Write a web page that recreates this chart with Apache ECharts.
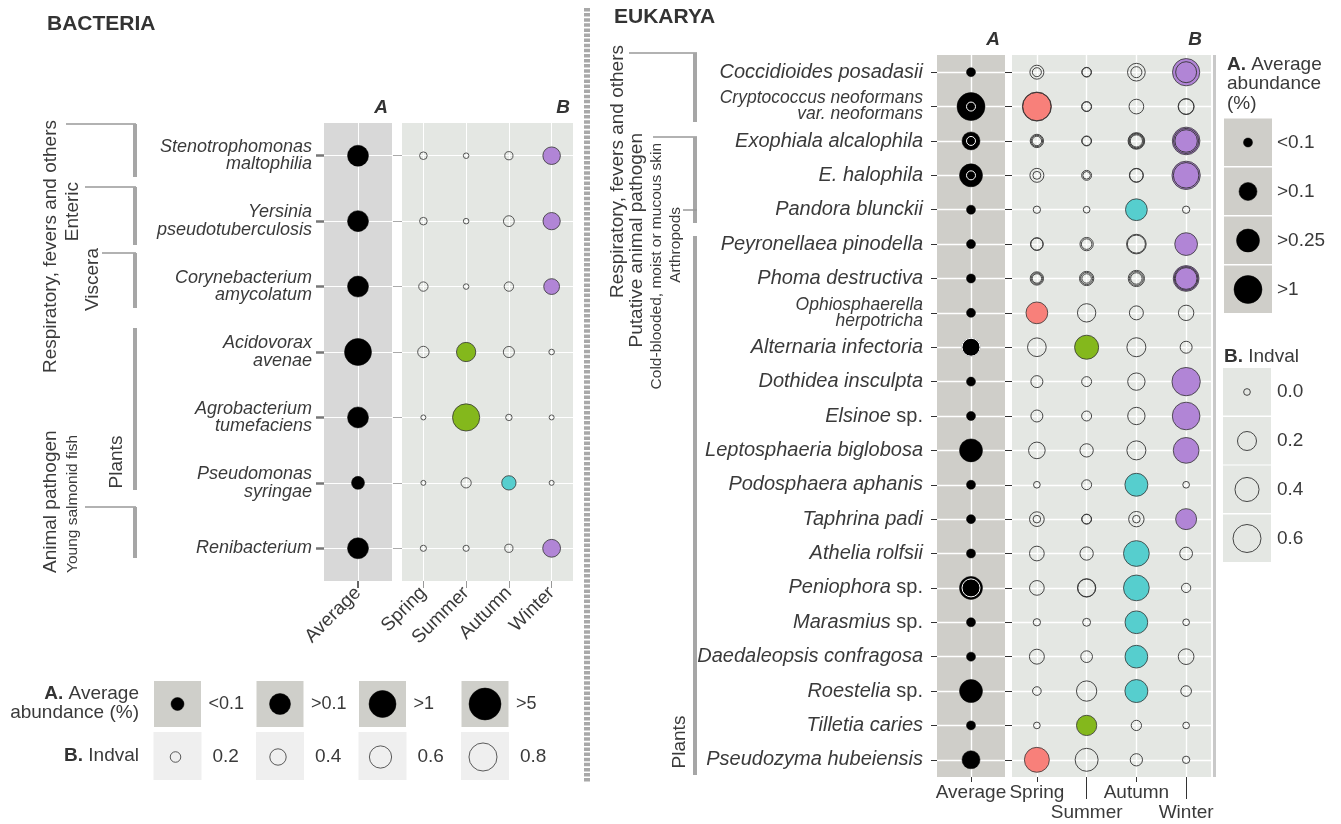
<!DOCTYPE html>
<html>
<head>
<meta charset="utf-8">
<script src="https://cdn.jsdelivr.net/npm/echarts@6/dist/echarts.min.js"></script>
<style>
  html, body { margin: 0; padding: 0; background: #ffffff; }
  #chart { width: 1341px; height: 824px; }
</style>
</head>
<body>
<div id="chart"></div>
<script>
// ---------- data ----------
const seasons = ['Spring', 'Summer', 'Autumn', 'Winter'];
const seasonColors = ['#f8807a', '#84b81c', '#56cece', '#b185d6'];

// Bacteria: average abundance (%) and seasonal indicator values
const bactTaxa = [
  'Stenotrophomonas\nmaltophilia',
  'Yersinia\npseudotuberculosis',
  'Corynebacterium\namycolatum',
  'Acidovorax\navenae',
  'Agrobacterium\ntumefaciens',
  'Pseudomonas\nsyringae',
  'Renibacterium'
];
const bactAbund = [0.5, 0.5, 0.5, 2, 0.5, 0.05, 0.5];
const bactSpring = [0.10, 0.10, 0.16, 0.23, 0.01, 0.01, 0.05];
const bactSummer = [0.03, 0.03, 0.03, 0.50, 0.77, 0.19, 0.05];
const bactAutumn = [0.12, 0.21, 0.16, 0.22, 0.06, 0.33, 0.12];
const bactWinter = [0.44, 0.43, 0.38, 0.03, 0.01, 0.01, 0.45];
const bactIndicator = ['Winter', 'Winter', 'Winter', 'Summer', 'Summer', 'Autumn', 'Winter'];

// Eukarya: several OTUs per taxon give several values per cell (first one is the main OTU)
const eukTaxa = [
  'Coccidioides posadasii',
  'Cryptococcus neoformans\nvar. neoformans',
  'Exophiala alcalophila',
  'E. halophila',
  'Pandora blunckii',
  'Peyronellaea pinodella',
  'Phoma destructiva',
  'Ophiosphaerella\nherpotricha',
  'Alternaria infectoria',
  'Dothidea insculpta',
  'Elsinoe sp.',
  'Leptosphaeria biglobosa',
  'Podosphaera aphanis',
  'Taphrina padi',
  'Athelia rolfsii',
  'Peniophora sp.',
  'Marasmius sp.',
  'Daedaleopsis confragosa',
  'Roestelia sp.',
  'Tilletia caries',
  'Pseudozyma hubeiensis'
];
const eukAbund = [0.05, 2, 0.2, 0.5, 0.05, 0.05, 0.05, 0.05, 0.2, 0.05, 0.05,
                  0.5, 0.05, 0.05, 0.05, 0.5, 0.05, 0.05, 0.5, 0.05, 0.2];
const eukAbundMinor = [[], [0.05], [0.05], [0.05], [], [], [], [], [0.2], [], [],
                       [], [], [], [], [0.2], [], [], [], [], []];
const eukSpring = [[0.07, 0.007], [0.66, 0.62], [0.058, 0.03, 0.01], [0.07, 0.002], [0.0005],
  [0.048, 0.04], [0.058, 0.03, 0.01], [0.30], [0.19], [0.037], [0.037], [0.13], [0],
  [0.085, 0.001], [0.085], [0.085], [0.0005], [0.09], [0.005], [0], [0.44]];
const eukSummer = [[0.012, 0.008], [0.014, 0.01], [0.014, 0.008], [0.014, 0.001], [0],
  [0.058, 0.02], [0.076, 0.04, 0.01], [0.18], [0.40], [0.014], [0.014], [0.058], [0.014],
  [0.014, 0.01], [0.058], [0.18, 0.16], [0.002], [0.033], [0.245], [0.245], [0.35]];
const eukAutumn = [[0.16, 0.025], [0.085], [0.13, 0.1, 0.07, 0.04], [0.07, 0.06], [0.30],
  [0.22, 0.17], [0.12, 0.07, 0.03], [0.07], [0.2], [0.15], [0.15], [0.2], [0.35],
  [0.1, 0.001], [0.48], [0.48], [0.34], [0.34], [0.35], [0.017], [0.041]];
const eukWinter = [[0.56, 0.27], [0.114, 0.1], [0.58, 0.45, 0.33], [0.62, 0.47], [0.0005],
  [0.34], [0.48, 0.38, 0.3], [0.1], [0.037], [0.62], [0.58], [0.48], [0],
  [0.27], [0.048], [0.009], [0], [0.107], [0.021], [0], [0.0005]];
const eukIndicator = ['Winter', 'Spring', 'Winter', 'Winter', 'Autumn', 'Winter', 'Winter',
  'Spring', 'Summer', 'Winter', 'Winter', 'Winter', 'Autumn', 'Winter', 'Autumn', 'Autumn',
  'Autumn', 'Autumn', 'Autumn', 'Summer', 'Spring'];

// legend keys
const bactAbundKeys = [0.05, 0.5, 2, 8];
const bactAbundKeyLabels = ['<0.1', '>0.1', '>1', '>5'];
const bactIndKeys = [0.2, 0.4, 0.6, 0.8];
const eukAbundKeys = [0.05, 0.2, 0.5, 2];
const eukAbundKeyLabels = ['<0.1', '>0.1', '>0.25', '>1'];
const eukIndKeys = [0, 0.2, 0.4, 0.6];

// ---------- scales ----------
function bactAbundSize(v) { return v < 0.1 ? 13 : v < 1 ? 21 : v < 5 ? 27 : 32; }
function bactIndSize(v) { return 4.7 + 29.2 * v; }
function eukAbundSize(v) { return v < 0.1 ? 9 : v < 0.25 ? 18 : v < 1 ? 23 : 28; }
function eukIndSize(v) { return 6.7 + 27.5 * Math.sqrt(v); }

// ---------- style constants ----------
const FONT = '"Liberation Sans", Arial, Helvetica, sans-serif';
const TXT = '#3a3a3a';
const A_BG_BACT = '#d8d8d8';
const A_BG_EUK = '#cfcec9';
const B_BG = '#e4e7e3';
const RING = '#333333';

// split season matrices into filled indicator marks and open rings
function seasonMarks(cols, indicator) {
  const filled = [], rings = [];
  cols.forEach((col, s) => col.forEach((cell, r) => {
    const vals = Array.isArray(cell) ? cell : [cell];
    vals.forEach((v, k) => {
      if (k === 0 && seasons[s] === indicator[r]) {
        filled.push({ value: [s, r, v], itemStyle: { color: seasonColors[s] } });
      } else {
        rings.push([s, r, v]);
      }
    });
  }));
  return { filled, rings };
}
const bactMarks = seasonMarks([bactSpring, bactSummer, bactAutumn, bactWinter], bactIndicator);
const eukMarks = seasonMarks([eukSpring, eukSummer, eukAutumn, eukWinter], eukIndicator);

const eukMinor = [];
eukAbundMinor.forEach((list, r) => list.forEach(v => eukMinor.push([0, r, v])));

// ---------- layout ----------
const grids = [
  { left: 324, top: 123, width: 68, height: 458, bg: A_BG_BACT },  // bacteria A
  { left: 402, top: 123, width: 171, height: 458, bg: B_BG },      // bacteria B
  { left: 937, top: 55, width: 68, height: 722, bg: A_BG_EUK },    // eukarya A
  { left: 1012, top: 55, width: 199, height: 722, bg: B_BG }       // eukarya B
];

// ---------- label formatters ----------
function bactLabel(name) {
  return name.split('\n').map(s => '{i|' + s + '}').join('\n');
}
function eukLabel(name) {
  if (name.indexOf('\n') >= 0) return name.split('\n').map(s => '{s|' + s + '}').join('\n');
  const m = name.match(/^(.*) sp\.$/);
  if (m) return '{i|' + m[1] + '} {n|sp.}';
  return '{i|' + name + '}';
}

function gridLine(w) {
  return { show: true, alignWithLabel: true, lineStyle: { color: '#ffffff', width: w } };
}

const xAxes = [
  { // bacteria A
    type: 'category', gridIndex: 0, data: ['Average'], boundaryGap: true,
    axisLine: { show: false },
    axisTick: { show: true, alignWithLabel: true, length: 7, lineStyle: { color: '#666', width: 2 } },
    axisLabel: { rotate: 45, margin: 9, fontSize: 19, fontFamily: FONT, color: TXT },
    splitLine: gridLine(1)
  },
  { // bacteria B
    type: 'category', gridIndex: 1, data: seasons, boundaryGap: true,
    axisLine: { show: false },
    axisTick: { show: true, alignWithLabel: true, length: 7, lineStyle: { color: '#999', width: 1 } },
    axisLabel: { rotate: 45, margin: 9, fontSize: 19, fontFamily: FONT, color: TXT, interval: 0 },
    splitLine: gridLine(1)
  },
  { // eukarya A
    type: 'category', gridIndex: 2, data: ['Average'], boundaryGap: true,
    axisLine: { show: false },
    axisTick: { show: true, alignWithLabel: true, length: 5, lineStyle: { color: '#333', width: 1 } },
    axisLabel: { margin: 6, fontSize: 19, fontFamily: FONT, color: TXT },
    splitLine: gridLine(1.4)
  },
  { // eukarya B, staggered season labels
    type: 'category', gridIndex: 3, data: seasons, boundaryGap: true,
    axisLine: { show: false },
    axisTick: { show: true, alignWithLabel: true, length: 5, interval: i => i % 2 === 0,
                lineStyle: { color: '#333', width: 1 } },
    axisLabel: { margin: 6, fontSize: 19, lineHeight: 20, fontFamily: FONT, color: TXT,
                 interval: 0, formatter: (v, i) => (i % 2 === 1 ? '\n' + v : v) },
    splitLine: gridLine(1.4)
  },
  { // eukarya B, long ticks for the lower label row
    type: 'category', gridIndex: 3, data: seasons, boundaryGap: true, position: 'bottom',
    axisLine: { show: false },
    axisTick: { show: true, alignWithLabel: true, length: 22, interval: i => i % 2 === 1,
                lineStyle: { color: '#333', width: 1 } },
    axisLabel: { show: false },
    splitLine: { show: false }
  }
];

const yAxes = [
  { // bacteria A
    type: 'category', gridIndex: 0, data: bactTaxa, inverse: true, boundaryGap: true,
    axisLine: { show: false },
    axisTick: { show: true, alignWithLabel: true, length: 8, lineStyle: { color: '#777', width: 2.5 } },
    axisLabel: {
      margin: 12, fontSize: 18, fontFamily: FONT, color: TXT, formatter: bactLabel,
      rich: { i: { fontStyle: 'italic', fontSize: 18, lineHeight: 17.5, fontFamily: FONT, color: TXT } }
    },
    splitLine: gridLine(1)
  },
  { // bacteria B
    type: 'category', gridIndex: 1, data: bactTaxa, inverse: true, boundaryGap: true,
    axisLine: { show: false },
    axisTick: { show: true, alignWithLabel: true, length: 9, lineStyle: { color: '#aaa', width: 1 } },
    axisLabel: { show: false },
    splitLine: gridLine(1)
  },
  { // eukarya A
    type: 'category', gridIndex: 2, data: eukTaxa, inverse: true, boundaryGap: true,
    axisLine: { show: false },
    axisTick: { show: true, alignWithLabel: true, length: 6, lineStyle: { color: '#333', width: 1 } },
    axisLabel: {
      margin: 14, fontSize: 20, fontFamily: FONT, color: TXT, formatter: eukLabel,
      rich: {
        i: { fontStyle: 'italic', fontSize: 20, fontFamily: FONT, color: TXT },
        n: { fontStyle: 'normal', fontSize: 20, fontFamily: FONT, color: TXT },
        s: { fontStyle: 'italic', fontSize: 17.5, lineHeight: 16, fontFamily: FONT, color: TXT }
      }
    },
    splitLine: gridLine(1.4)
  },
  { // eukarya B
    type: 'category', gridIndex: 3, data: eukTaxa, inverse: true, boundaryGap: true,
    axisLine: { show: false },
    axisTick: { show: true, alignWithLabel: true, length: 7, lineStyle: { color: '#333', width: 1 } },
    axisLabel: { show: false },
    splitLine: gridLine(1.4)
  }
];

const series = [
  { // bacteria average abundance
    type: 'scatter', xAxisIndex: 0, yAxisIndex: 0,
    data: bactAbund.map((v, r) => [0, r, v]),
    symbolSize: d => bactAbundSize(d[2]),
    itemStyle: { color: '#000', borderColor: '#000', borderWidth: 0.5, opacity: 1 }
  },
  { // bacteria indicator seasons
    type: 'scatter', xAxisIndex: 1, yAxisIndex: 1,
    data: bactMarks.filled,
    symbolSize: d => bactIndSize(d[2]),
    itemStyle: { borderColor: RING, borderWidth: 0.8, opacity: 1 }
  },
  { // bacteria indval, other seasons
    type: 'scatter', xAxisIndex: 1, yAxisIndex: 1,
    data: bactMarks.rings,
    symbolSize: d => bactIndSize(d[2]),
    itemStyle: { color: 'rgba(0,0,0,0)', borderColor: RING, borderWidth: 0.8, opacity: 1 }
  },
  { // eukarya average abundance
    type: 'scatter', xAxisIndex: 2, yAxisIndex: 2,
    data: eukAbund.map((v, r) => [0, r, v]),
    symbolSize: d => eukAbundSize(d[2]),
    itemStyle: { color: '#000', borderColor: '#000', borderWidth: 0.5, opacity: 1 }
  },
  { // eukarya minor OTUs drawn as white rings
    type: 'scatter', xAxisIndex: 2, yAxisIndex: 2,
    data: eukMinor,
    symbolSize: d => eukAbundSize(d[2]),
    itemStyle: { color: 'rgba(0,0,0,0)', borderColor: '#ffffff', borderWidth: 1, opacity: 1 }
  },
  { // eukarya indicator seasons
    type: 'scatter', xAxisIndex: 3, yAxisIndex: 3,
    data: eukMarks.filled,
    symbolSize: d => eukIndSize(d[2]),
    itemStyle: { borderColor: RING, borderWidth: 0.8, opacity: 1 }
  },
  { // eukarya indval rings
    type: 'scatter', xAxisIndex: 3, yAxisIndex: 3,
    data: eukMarks.rings,
    symbolSize: d => eukIndSize(d[2]),
    itemStyle: { color: 'rgba(0,0,0,0)', borderColor: RING, borderWidth: 0.9, opacity: 1 }
  }
];
series.forEach(s => { s.silent = true; s.clip = false; s.emphasis = { disabled: true }; });

// ---------- annotations ----------
const G = [];
function txt(x, y, text, o) {
  o = o || {};
  G.push({
    type: 'text', x: x, y: y, rotation: o.rot || 0, silent: true, z: 10,
    style: {
      text: text, fill: o.color || TXT,
      fontSize: o.size || 19, fontFamily: FONT,
      fontWeight: o.weight || 'normal', fontStyle: o.style || 'normal',
      align: o.align || 'left', verticalAlign: o.valign || 'middle',
      textAlign: o.align || 'left', textVerticalAlign: o.valign || 'middle',
      lineHeight: o.lh, rich: o.rich
    }
  });
}
function hline(x1, x2, y, w, c) {
  G.push({ type: 'line', silent: true, shape: { x1: x1, y1: y, x2: x2, y2: y },
           style: { stroke: c || '#999', lineWidth: w || 1.5 } });
}
function box(x, y, w, h, c) {
  G.push({ type: 'rect', silent: true, shape: { x: x, y: y, width: w, height: h }, style: { fill: c } });
}
function dot(cx, cy, d, fill, stroke, lw) {
  G.push({ type: 'circle', silent: true, z: 5, shape: { cx: cx, cy: cy, r: d / 2 },
           style: { fill: fill, stroke: stroke, lineWidth: lw } });
}
const UP = Math.PI / 2;
const BAR = '#a6a6a6';

// titles and panel headers
txt(47, 24, 'BACTERIA', { size: 21, weight: 'bold', color: '#333' });
txt(614, 17, 'EUKARYA', { size: 21, weight: 'bold', color: '#333' });
txt(grids[0].left + grids[0].width - 4, 108, 'A', { size: 19, weight: 'bold', style: 'italic', align: 'right', color: '#333' });
txt(grids[1].left + grids[1].width - 3, 108, 'B', { size: 19, weight: 'bold', style: 'italic', align: 'right', color: '#333' });
txt(grids[2].left + grids[2].width - 5, 40, 'A', { size: 19, weight: 'bold', style: 'italic', align: 'right', color: '#333' });
txt(grids[3].left + grids[3].width - 9, 40, 'B', { size: 19, weight: 'bold', style: 'italic', align: 'right', color: '#333' });

// bacteria pathogen groups
hline(66, 136, 124); box(133, 124, 4, 53, BAR);
hline(85, 136, 187); box(133, 187, 4, 58, BAR);
hline(102, 136, 253); box(133, 253, 4, 55, BAR);
box(133, 328, 4, 162, BAR);
hline(85, 136, 507); box(133, 507, 4, 51, BAR);
txt(51, 120, 'Respiratory, fevers and others', { rot: UP, align: 'right' });
txt(73, 182, 'Enteric', { rot: UP, align: 'right' });
txt(93, 248, 'Viscera', { rot: UP, align: 'right' });
txt(117, 462, 'Plants', { rot: UP, align: 'center' });
txt(51, 573, 'Animal pathogen', { rot: UP, align: 'left' });
txt(73, 573, 'Young salmonid fish', { rot: UP, align: 'left', size: 15.5 });

// separator between kingdoms
G.push({ type: 'line', silent: true, shape: { x1: 587, y1: 8, x2: 587, y2: 782 },
         style: { stroke: '#a8a8a8', lineWidth: 6, lineDash: [3.5, 1.6] } });

// eukarya pathogen groups
hline(629, 697, 53); box(693, 53, 4, 69, BAR);
hline(653, 697, 137); box(693, 137, 4, 86, BAR);
hline(683, 697, 210);
box(693, 236, 4, 539, BAR);
txt(618, 45, 'Respiratory, fevers and others', { rot: UP, align: 'right' });
txt(637, 133, 'Putative animal pathogen', { rot: UP, align: 'right' });
txt(657, 143, 'Cold-blooded, moist or mucous skin', { rot: UP, align: 'right', size: 15.5 });
txt(676, 207, 'Arthropods', { rot: UP, align: 'right', size: 15.5 });
txt(680, 742, 'Plants', { rot: UP, align: 'center' });

// eukarya legend separator
box(1213, 55, 3, 722, '#c9c9c9');

// bacteria legend
const richBold = { b: { fontWeight: 'bold', fontSize: 19, fontFamily: FONT, fill: '#333', color: '#333' } };
txt(139, 703, '{b|A.} Average\nabundance (%)', { align: 'right', lh: 19, rich: richBold });
txt(139, 756, '{b|B.} Indval', { align: 'right', rich: richBold });
const bactKeyX = [177.5, 280, 382.5, 485];
bactAbundKeys.forEach((v, i) => {
  box(bactKeyX[i] - 23.5, 681, 47, 46, '#cfcfca');
  dot(bactKeyX[i], 704, bactAbundSize(v), '#000', '#000', 0.5);
  txt(bactKeyX[i] + 31, 704, bactAbundKeyLabels[i], { size: 18 });
});
bactIndKeys.forEach((v, i) => {
  box(bactKeyX[i] - 24, 732, 48, 48, '#efefef');
  dot(bactKeyX[i] - 2, 757, bactIndSize(v), 'rgba(0,0,0,0)', RING, 0.8);
  txt(bactKeyX[i] + 35, 757, v.toFixed(1), { size: 19 });
});

// eukarya legend
txt(1227, 55, '{b|A.} Average\nabundance\n(%)', { valign: 'top', lh: 19.5, rich: richBold });
const eukAKeyY = [142.5, 191.5, 240.5, 289.5];
eukAbundKeys.forEach((v, i) => {
  box(1224, eukAKeyY[i] - 24, 48, 47.5, '#cfcec9');
  dot(1248, eukAKeyY[i], eukAbundSize(v), '#000', '#000', 0.5);
  txt(1277, eukAKeyY[i], eukAbundKeyLabels[i], { size: 19 });
});
txt(1224, 357, '{b|B.} Indval', { rich: richBold });
const eukBKeyY = [392, 441, 489.5, 538.5];
eukIndKeys.forEach((v, i) => {
  box(1223, eukBKeyY[i] - 24, 48, 47.5, B_BG);
  dot(1247, eukBKeyY[i], eukIndSize(v), 'rgba(0,0,0,0)', RING, 0.9);
  txt(1277, eukBKeyY[i], v.toFixed(1), { size: 19 });
});

// ---------- chart ----------
const chart = echarts.init(document.getElementById('chart'), null, { renderer: 'canvas' });
chart.setOption({
  animation: false,
  backgroundColor: '#ffffff',
  textStyle: { fontFamily: FONT },
  grid: grids.map(g => ({
    left: g.left, top: g.top, width: g.width, height: g.height,
    show: true, backgroundColor: g.bg, borderWidth: 0, containLabel: false
  })),
  xAxis: xAxes,
  yAxis: yAxes,
  series: series,
  graphic: G
});
</script>
</body>
</html>
